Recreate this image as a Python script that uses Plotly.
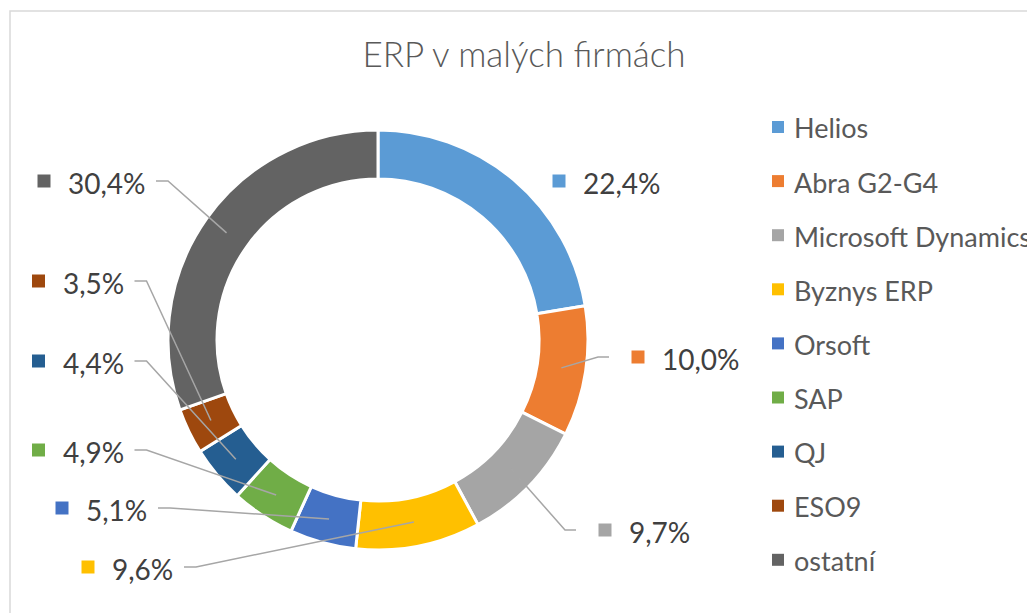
import math
import plotly.graph_objects as go

# ---- data ----
categories = ["Helios", "Abra G2-G4", "Microsoft Dynamics", "Byznys ERP", "Orsoft",
              "SAP", "QJ", "ESO9", "ostatní"]
shares = [22.4, 10.0, 9.7, 9.6, 5.1, 4.9, 4.4, 3.5, 30.4]
title_text = "ERP v malých firmách"

# ---- styles ----
colors = ["#5B9BD5", "#ED7D31", "#A5A5A5", "#FFC000", "#4472C4",
          "#70AD47", "#255E91", "#9E480E", "#636363"]

W, H = 1027, 613
CX, CY, R_OUT, R_IN = 378, 340, 210, 161

# label layout (pixel positions of the small colour square, side, leader shown)
label_layout = [(559, 181, "R", False), (638, 357, "R", True), (605, 530, "R", True),
                (88, 567, "L", True), (62, 508, "L", True), (38.5, 450, "L", True),
                (38.5, 361, "L", True), (38.5, 281, "L", True), (44, 181, "L", True)]

def px(x):
    return x / W

def py(y):
    return 1 - y / H

def est_width(s):
    w = 0
    for ch in s:
        w += 16 if ch.isdigit() else (8 if ch == "," else 23)
    return w

fig = go.Figure()
fig.add_trace(go.Pie(
    labels=categories, values=shares, sort=False, direction="clockwise",
    hole=R_IN / R_OUT, textinfo="none", hoverinfo="label+percent",
    marker=dict(colors=colors, line=dict(color="white", width=3)),
    domain=dict(x=[px(CX - R_OUT), px(CX + R_OUT)], y=[py(CY + R_OUT), py(CY - R_OUT)]),
    showlegend=False,
))

shapes = []
annotations = []

# chart border
shapes.append(dict(type="rect", xref="paper", yref="paper",
                   x0=px(10), x1=px(1060), y0=py(650), y1=py(11),
                   line=dict(color="#D9D9D9", width=1.5), fillcolor="rgba(0,0,0,0)", layer="below"))

total = sum(shares)
cum = 0.0
r_mid = (R_OUT + R_IN) / 2
for i, (cat, v) in enumerate(zip(categories, shares)):
    mid = (cum + v / 2) / total * 2 * math.pi
    cum += v
    mx = CX + r_mid * math.sin(mid)
    my = CY - r_mid * math.cos(mid)
    sx, sy, side, leader = label_layout[i]
    txt = f"{v:.1f}".replace(".", ",") + "%"
    # colour square
    shapes.append(dict(type="rect", xref="paper", yref="paper",
                       x0=px(sx - 6.5), x1=px(sx + 6.5), y0=py(sy + 6.5), y1=py(sy - 6.5),
                       fillcolor=colors[i], line=dict(width=0), layer="above"))
    annotations.append(dict(text=txt, x=px(sx + 22), y=py(sy + 2), xref="paper", yref="paper",
                            xanchor="left", yanchor="middle", showarrow=False,
                            font=dict(family="Lato", size=28, color="#404040")))
    if leader:
        if side == "L":
            ax = sx + 24 + est_width(txt) + 9
            ex = ax + 12
        else:
            ax = sx - 29
            ex = sx - 40
        path = f"M {px(ax)} {py(sy)} L {px(ex)} {py(sy)} L {px(mx)} {py(my)}"
        shapes.append(dict(type="path", xref="paper", yref="paper", path=path,
                           line=dict(color="#A6A6A6", width=1.5), layer="above"))

# legend (manual, to match spacing)
for i, cat in enumerate(categories):
    ly = 127 + i * 54.1
    shapes.append(dict(type="rect", xref="paper", yref="paper",
                       x0=px(772), x1=px(784), y0=py(ly + 6), y1=py(ly - 6),
                       fillcolor=colors[i], line=dict(width=0), layer="above"))
    annotations.append(dict(text=cat, x=px(792), y=py(ly + 1), xref="paper", yref="paper",
                            xanchor="left", yanchor="middle", showarrow=False,
                            font=dict(family="Lato", size=27, color="#595959")))

fig.update_layout(
    width=W, height=H, margin=dict(l=0, r=0, t=0, b=0),
    paper_bgcolor="white", plot_bgcolor="white",
    title=dict(text=title_text, x=px(524), y=py(55), xanchor="center", yanchor="middle",
               font=dict(family="Lato", size=35, color="#595959", weight=300)),
    shapes=shapes, annotations=annotations,
)

fig.write_html("out.html", config={"displayModeBar": False},
               post_script="document.body.style.margin='0';")
